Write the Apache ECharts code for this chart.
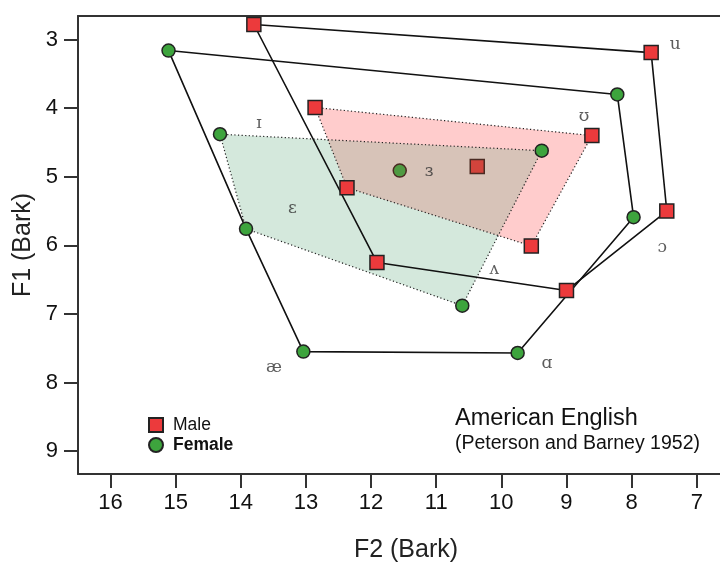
<!DOCTYPE html>
<html>
<head>
<meta charset="utf-8">
<script src="https://cdn.jsdelivr.net/npm/echarts@6/dist/echarts.min.js"></script>
<style>html,body{margin:0;padding:0;background:#fff}#chart{width:720px;height:564px}</style>
</head>
<body>
<div id="chart"></div>
<script>
// Vowels (same order for both arrays)
var vowels = ['i', 'ɪ', 'ɛ', 'æ', 'ɑ', 'ɔ', 'ʊ', 'u', 'ʌ', 'ɜ'];
var maleF2 = [13.80, 12.86, 12.37, 11.91, 9.00, 7.46, 8.61, 7.70, 9.54, 10.37];
var maleF1 = [2.78, 3.99, 5.16, 6.25, 6.66, 5.50, 4.40, 3.19, 6.01, 4.85];
var femaleF2 = [15.11, 14.32, 13.92, 13.04, 9.75, 7.97, 9.38, 8.22, 10.60, 11.56];
var femaleF1 = [3.16, 4.38, 5.76, 7.55, 7.57, 5.59, 4.62, 3.80, 6.88, 4.91];

// Polygon vertex orders
var maleOuter = ['i', 'u', 'ɔ', 'ɑ', 'æ'];
var femaleOuter = ['i', 'u', 'ɔ', 'ɑ', 'æ', 'ɛ'];
var laxPoly = ['ɪ', 'ʊ', 'ʌ', 'ɛ'];

// Vowel symbol labels
var labelText = ['u', 'ʊ', 'ɔ', 'ʌ', 'ɑ', 'æ', 'ɛ', 'ɪ', 'ɜ'];
var labelF2 = [7.33, 8.73, 7.53, 10.11, 9.30, 13.49, 13.21, 13.72, 11.11];
var labelF1 = [3.08, 4.13, 6.03, 6.35, 7.73, 7.79, 5.46, 4.23, 4.92];

// Tick labels
var xTicks = [16, 15, 14, 13, 12, 11, 10, 9, 8, 7];
var yTicks = [3, 4, 5, 6, 7, 8, 9];

function pts(order, f2, f1) {
  return order.map(function (v) { var k = vowels.indexOf(v); return [f2[k], f1[k]]; });
}
function closed(a) { return a.concat([a[0]]); }

function clipPoly(subject, clip) {
  var area = 0;
  for (var i = 0; i < clip.length; i++) {
    var a = clip[i], b = clip[(i + 1) % clip.length];
    area += a[0] * b[1] - b[0] * a[1];
  }
  var s = area > 0 ? 1 : -1;
  var out = subject.slice();
  for (var e = 0; e < clip.length && out.length; e++) {
    var A = clip[e], B = clip[(e + 1) % clip.length];
    var inside = function (p) { return s * ((B[0] - A[0]) * (p[1] - A[1]) - (B[1] - A[1]) * (p[0] - A[0])) >= 0; };
    var inter = function (p, q) {
      var x1 = p[0], y1 = p[1], x2 = q[0], y2 = q[1], x3 = A[0], y3 = A[1], x4 = B[0], y4 = B[1];
      var d = (x1 - x2) * (y3 - y4) - (y1 - y2) * (x3 - x4);
      var t = ((x1 - x3) * (y3 - y4) - (y1 - y3) * (x3 - x4)) / d;
      return [x1 + t * (x2 - x1), y1 + t * (y2 - y1)];
    };
    var input = out; out = [];
    for (var j = 0; j < input.length; j++) {
      var P = input[j], Q = input[(j + 1) % input.length];
      var pi = inside(P), qi = inside(Q);
      if (pi) { out.push(P); if (!qi) out.push(inter(P, Q)); }
      else if (qi) { out.push(inter(P, Q)); }
    }
  }
  return out;
}

var chart = echarts.init(document.getElementById('chart'), null, { renderer: 'canvas' });

var maleData = maleF2.map(function (x, i) {
  var d = { value: [x, maleF1[i]] };
  if (vowels[i] === 'ɜ') d.itemStyle = { color: '#d2443c', borderColor: '#4a2a22' };
  return d;
});
var femaleData = femaleF2.map(function (x, i) {
  var d = { value: [x, femaleF1[i]] };
  if (vowels[i] === 'ɜ') d.itemStyle = { color: '#4f9a42', borderColor: '#4a2a22' };
  return d;
});

var FONT = 'Liberation Sans, Arial, sans-serif';
var X_MIN = 6.643, X_MAX = 16.5;

var option = {
  backgroundColor: '#ffffff',
  animation: false,
  grid: { left: 78, top: 16, right: 0, bottom: 90, show: false },
  xAxis: [{
    type: 'value', inverse: true, min: X_MIN, max: X_MAX, position: 'bottom',
    axisLine: { show: true, lineStyle: { color: '#333', width: 2 } },
    axisTick: { show: true, customValues: xTicks, length: 14, lineStyle: { color: '#333', width: 2 } },
    axisLabel: { customValues: xTicks, fontSize: 22, color: '#111', margin: 18, fontFamily: FONT },
    splitLine: { show: false }
  }, {
    type: 'value', inverse: true, min: X_MIN, max: X_MAX, position: 'top',
    axisLine: { show: true, lineStyle: { color: '#333', width: 2 } },
    axisTick: { show: false }, axisLabel: { show: false }, splitLine: { show: false }
  }],
  yAxis: {
    type: 'value', inverse: true, min: 2.656, max: 9.335,
    axisLine: { show: true, lineStyle: { color: '#333', width: 2 } },
    axisTick: { show: true, customValues: yTicks, length: 14, lineStyle: { color: '#333', width: 2 } },
    axisLabel: { customValues: yTicks, fontSize: 22, color: '#111', margin: 20, fontFamily: FONT },
    splitLine: { show: false }
  },
  legend: {
    data: [{ name: 'Male', icon: 'rect' }, { name: 'Female', icon: 'circle' }],
    orient: 'vertical', left: 143, top: 411, itemWidth: 14, itemHeight: 14, itemGap: 2,
    formatter: function (n) { return n === 'Female' ? '{b|Female}' : '{n|Male}'; },
    textStyle: {
      fontSize: 17, color: '#111', fontFamily: FONT,
      rich: {
        n: { fontSize: 17.5, padding: [0, 0, 0, 5], fontFamily: FONT, color: '#111' },
        b: { fontSize: 17.5, fontWeight: 'bold', padding: [0, 0, 0, 5], fontFamily: FONT, color: '#111' }
      }
    }
  },
  graphic: [
    { type: 'text', left: 455, top: 407, style: { text: 'American English', fontSize: 23.5, fill: '#111', fontFamily: FONT } },
    { type: 'text', left: 455, top: 434, style: { text: '(Peterson and Barney 1952)', fontSize: 19.5, fill: '#111', fontFamily: FONT } },
    { type: 'text', x: 406, y: 550, style: { text: 'F2 (Bark)', fontSize: 25, fill: '#222', align: 'center', verticalAlign: 'middle', fontFamily: FONT } },
    { type: 'text', x: 23, y: 245, rotation: Math.PI / 2, style: { text: 'F1 (Bark)', fontSize: 25, fill: '#222', align: 'center', verticalAlign: 'middle', fontFamily: FONT } }
  ],
  series: [
    {
      type: 'custom', z: 1, silent: true,
      data: [0],
      renderItem: function (params, api) {
        var g = pts(laxPoly, femaleF2, femaleF1).map(function (p) { return api.coord(p); });
        var m = pts(laxPoly, maleF2, maleF1).map(function (p) { return api.coord(p); });
        var ov = clipPoly(g, m);
        var dash = { stroke: '#222', lineWidth: 1.2, lineDash: [1.2, 2.4], fill: null };
        return {
          type: 'group',
          children: [
            { type: 'polygon', shape: { points: g }, style: { fill: '#d4e8dc', stroke: null } },
            { type: 'polygon', shape: { points: m }, style: { fill: '#ffcccc', stroke: null } },
            { type: 'polygon', shape: { points: ov }, style: { fill: '#d7c3b8', stroke: null } },
            { type: 'polygon', shape: { points: g }, style: dash },
            { type: 'polygon', shape: { points: m }, style: dash }
          ]
        };
      }
    },
    {
      type: 'line', z: 2, silent: true, symbol: 'none',
      data: closed(pts(maleOuter, maleF2, maleF1)),
      lineStyle: { color: '#111', width: 1.6 }
    },
    {
      type: 'line', z: 2, silent: true, symbol: 'none',
      data: closed(pts(femaleOuter, femaleF2, femaleF1)),
      lineStyle: { color: '#111', width: 1.6 }
    },
    {
      name: 'Male', type: 'scatter', z: 3, symbol: 'rect', symbolSize: 14,
      data: maleData,
      itemStyle: { color: '#ec3a3c', borderColor: '#222', borderWidth: 1.5, opacity: 1 }
    },
    {
      name: 'Female', type: 'scatter', z: 3, symbol: 'circle', symbolSize: 13,
      data: femaleData,
      itemStyle: { color: '#3da43d', borderColor: '#222', borderWidth: 1.5, opacity: 1 }
    },
    {
      type: 'scatter', z: 4, silent: true, symbolSize: 1,
      data: labelF2.map(function (x, i) { return [x, labelF1[i]]; }),
      itemStyle: { color: 'rgba(0,0,0,0)' },
      label: {
        show: true, position: 'inside',
        formatter: function (p) { return labelText[p.dataIndex]; },
        fontSize: 17, color: '#333', fontFamily: 'DejaVu Serif, Liberation Serif, serif'
      }
    }
  ]
};
chart.setOption(option);
</script>
</body>
</html>
